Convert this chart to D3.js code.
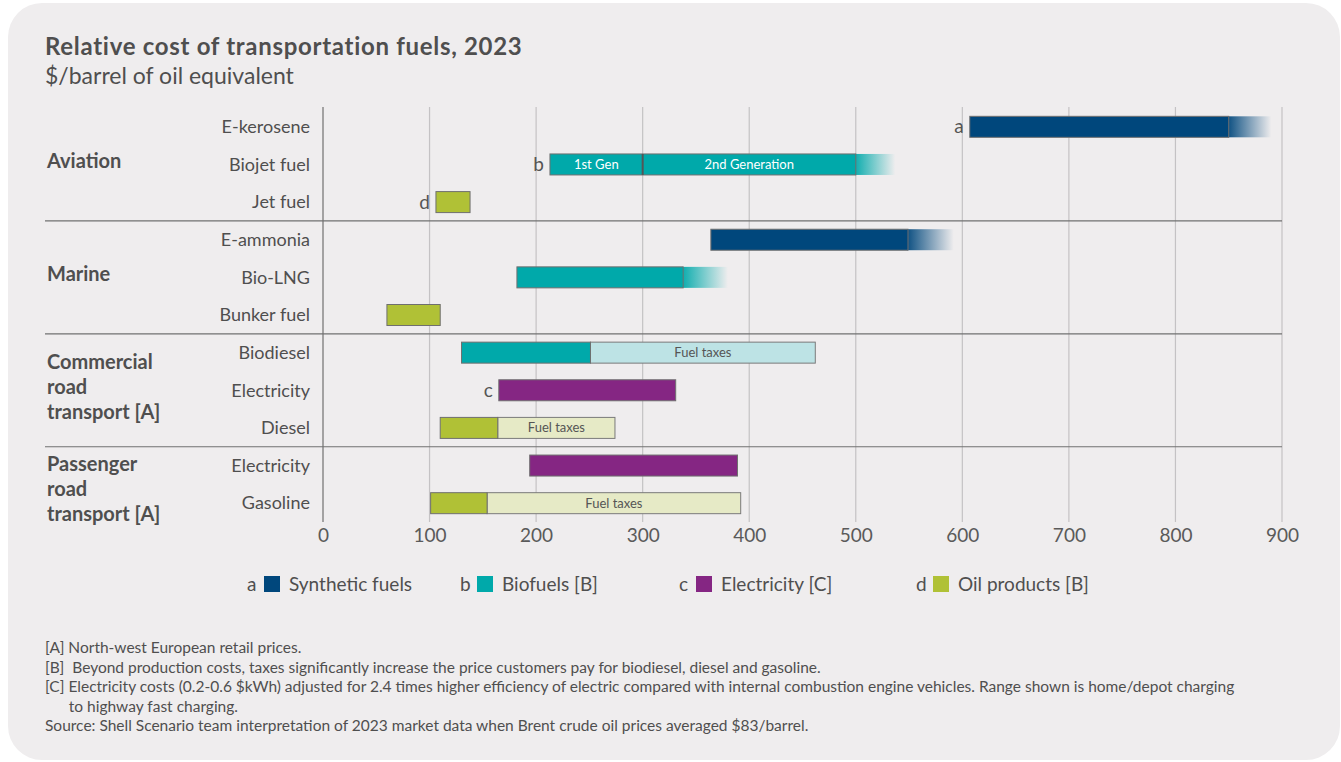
<!DOCTYPE html>
<html>
<head>
<meta charset="utf-8">
<script src="https://cdnjs.cloudflare.com/ajax/libs/d3/7.8.5/d3.min.js"></script>
<style>
  body { margin: 0; background: #ffffff; }
  text { font-family: Lato, "Noto Sans", sans-serif; }
</style>
</head>
<body>
<div id="container"></div>
<script>
//Width and height
var w = 1341;
var h = 762;

//chart data
var rowLabels = ['E-kerosene', 'Biojet fuel', 'Jet fuel', 'E-ammonia', 'Bio-LNG', 'Bunker fuel',
    'Biodiesel', 'Electricity', 'Diesel', 'Electricity', 'Gasoline'];
var fuelType = ['a', 'b', 'd', 'a', 'b', 'd', 'b', 'c', 'd', 'c', 'd'];
var costLow = [607, 213, 106, 364, 182, 60, 130, 165, 110, 194, 101];
var costHigh = [850, 500, 138, 549, 338, 110, 251, 331, 164, 389, 154];
var costFade = [890, 537, null, 592, 380, null, null, null, null, null, null];
var taxHigh = [null, null, null, null, null, null, 462, null, 274, null, 392];
var letterRows = [0, 1, 2, 7];

//biojet split
var biojetSplit = 300;
var biojetLabels = ['1st Gen', '2nd Generation'];

//groups
var groupNames = [['Aviation'], ['Marine'], ['Commercial', 'road', 'transport [A]'], ['Passenger', 'road', 'transport [A]']];
var groupRows = [[0, 2], [3, 5], [6, 8], [9, 10]];

var xTicks = [0, 100, 200, 300, 400, 500, 600, 700, 800, 900];

var legendKeys = ['a', 'b', 'c', 'd'];
var legendLabels = ['Synthetic fuels', 'Biofuels [B]', 'Electricity [C]', 'Oil products [B]'];

var footnotes = [
    '[A] North-west European retail prices.',
    '[B]  Beyond production costs, taxes significantly increase the price customers pay for biodiesel, diesel and gasoline.',
    '[C] Electricity costs (0.2-0.6 $kWh) adjusted for 2.4 times higher efficiency of electric compared with internal combustion engine vehicles. Range shown is home/depot charging',
    '      to highway fast charging.',
    'Source: Shell Scenario team interpretation of 2023 market data when Brent crude oil prices averaged $83/barrel.'
];

//colors
var colors = { a: '#00477c', b: '#00a9aa', c: '#852683', d: '#b0c136' };
var taxColors = { b: '#bde3e5', d: '#e6eac6' };
var bg = '#efedee';
var textColor = '#4f4f4f';

//scales
var x = d3.scaleLinear().domain([0, 900]).range([323, 1282]);
var y = d3.scaleBand().domain(d3.range(rowLabels.length)).range([108, 522]);
var barH = 21;

//create SVG
var svg = d3.select('#container')
    .append('svg')
    .attr('width', w)
    .attr('height', h);

//card background
svg.append('rect')
    .attr('x', 8)
    .attr('y', 3)
    .attr('width', 1332)
    .attr('height', 757)
    .attr('rx', 34)
    .attr('fill', bg);

//gradients for faded ends
var defs = svg.append('defs');
['a', 'b'].forEach(function(k) {
    var g = defs.append('linearGradient')
        .attr('id', 'fade-' + k);
    g.append('stop').attr('offset', '0%').attr('stop-color', colors[k]).attr('stop-opacity', 0.95);
    g.append('stop').attr('offset', '100%').attr('stop-color', colors[k]).attr('stop-opacity', 0);
});

//title
svg.append('text')
    .attr('x', 45)
    .attr('y', 55)
    .text('Relative cost of transportation fuels, 2023')
    .style('font-size', '24px')
    .style('letter-spacing', '0.7px')
    .style('font-weight', 'bold')
    .attr('fill', textColor);

svg.append('text')
    .attr('x', 45)
    .attr('y', 84)
    .text('$/barrel of oil equivalent')
    .style('font-size', '23px')
    .attr('fill', textColor);

//gridlines
svg.selectAll('.grid')
    .data(xTicks.slice(1))
    .enter()
    .append('line')
    .attr('class', 'grid')
    .attr('x1', function(d) { return x(d); })
    .attr('x2', function(d) { return x(d); })
    .attr('y1', 107)
    .attr('y2', 522)
    .attr('stroke', '#c4c2c4')
    .attr('stroke-width', 1.2);

//x axis labels
var xAxis = d3.axisBottom(x)
    .tickValues(xTicks)
    .tickSize(0)
    .tickPadding(0);

var axisG = svg.append('g')
    .attr('transform', 'translate(0,525)')
    .call(xAxis);
axisG.select('.domain').remove();
axisG.selectAll('text')
    .attr('dy', '0.9em')
    .attr('fill', '#5a5a5a')
    .style('font-size', '19px');

//group separators
svg.selectAll('.sep')
    .data(groupRows.slice(1))
    .enter()
    .append('line')
    .attr('x1', 45)
    .attr('x2', 1282)
    .attr('y1', function(d) { return y(d[0]); })
    .attr('y2', function(d) { return y(d[0]); })
    .attr('stroke', '#707070')
    .attr('stroke-width', 1.2);

//zero axis line
svg.append('line')
    .attr('x1', x(0))
    .attr('x2', x(0))
    .attr('y1', 107)
    .attr('y2', 522)
    .attr('stroke', '#707070')
    .attr('stroke-width', 1.2);

//row labels
svg.selectAll('.rowlabel')
    .data(rowLabels)
    .enter()
    .append('text')
    .attr('x', 310)
    .attr('y', function(d, i) { return y(i) + y.bandwidth() / 2; })
    .attr('dy', '0.35em')
    .attr('text-anchor', 'end')
    .text(function(d) { return d; })
    .style('font-size', '18px')
    .attr('fill', textColor);

//group labels
var lineH = 25;
groupNames.forEach(function(lines, gi) {
    var r = groupRows[gi];
    var mid = (y(r[0]) + y(r[1]) + y.bandwidth()) / 2;
    var top = Math.max(mid - (lines.length - 1) * lineH / 2 - 3, y(r[0]) + 17);
    lines.forEach(function(l, li) {
        svg.append('text')
            .attr('x', 47)
            .attr('y', top + li * lineH)
            .attr('dy', '0.35em')
            .text(l)
            .style('font-size', '20px')
            .style('font-weight', 'bold')
            .attr('fill', textColor);
    });
});

var bars = svg.append('g');

//faded ends
bars.selectAll('.fade')
    .data(d3.range(rowLabels.length).filter(function(i) { return costFade[i] != null; }))
    .enter()
    .append('rect')
    .attr('x', function(i) { return x(costHigh[i]) - 1; })
    .attr('y', function(i) { return y(i) + (y.bandwidth() - barH) / 2; })
    .attr('width', function(i) { return x(costFade[i]) - x(costHigh[i]) + 1; })
    .attr('height', barH)
    .attr('fill', function(i) { return 'url(#fade-' + fuelType[i] + ')'; });

//tax segments
bars.selectAll('.tax')
    .data(d3.range(rowLabels.length).filter(function(i) { return taxHigh[i] != null; }))
    .enter()
    .append('rect')
    .attr('x', function(i) { return x(costHigh[i]); })
    .attr('y', function(i) { return y(i) + (y.bandwidth() - barH) / 2; })
    .attr('width', function(i) { return x(taxHigh[i]) - x(costHigh[i]); })
    .attr('height', barH)
    .attr('fill', function(i) { return taxColors[fuelType[i]]; })
    .attr('stroke', '#7a7a7a')
    .attr('stroke-width', 1);

bars.selectAll('.taxlabel')
    .data(d3.range(rowLabels.length).filter(function(i) { return taxHigh[i] != null; }))
    .enter()
    .append('text')
    .attr('x', function(i) { return (x(costHigh[i]) + x(taxHigh[i])) / 2; })
    .attr('y', function(i) { return y(i) + y.bandwidth() / 2; })
    .attr('dy', '0.35em')
    .attr('text-anchor', 'middle')
    .text('Fuel taxes')
    .style('font-size', '13px')
    .attr('fill', '#555');

//main bars
bars.selectAll('.bar')
    .data(d3.range(rowLabels.length))
    .enter()
    .append('rect')
    .attr('x', function(i) { return x(costLow[i]); })
    .attr('y', function(i) { return y(i) + (y.bandwidth() - barH) / 2; })
    .attr('width', function(i) { return x(costHigh[i]) - x(costLow[i]); })
    .attr('height', barH)
    .attr('fill', function(i) { return colors[fuelType[i]]; })
    .attr('stroke', '#6f6f6f')
    .attr('stroke-width', 1);

//biojet generations divider and labels
var bj = 1;
bars.append('line')
    .attr('x1', x(biojetSplit))
    .attr('x2', x(biojetSplit))
    .attr('y1', y(bj) + (y.bandwidth() - barH) / 2)
    .attr('y2', y(bj) + (y.bandwidth() + barH) / 2)
    .attr('stroke', '#555')
    .attr('stroke-width', 2);

bars.selectAll('.genlabel')
    .data(biojetLabels)
    .enter()
    .append('text')
    .attr('x', function(d, k) {
        return k == 0 ? (x(costLow[bj]) + x(biojetSplit)) / 2 : (x(biojetSplit) + x(costHigh[bj])) / 2;
    })
    .attr('y', y(bj) + y.bandwidth() / 2)
    .attr('dy', '0.35em')
    .attr('text-anchor', 'middle')
    .text(function(d) { return d; })
    .style('font-size', '13px')
    .attr('fill', '#ffffff');

//letters next to bars
bars.selectAll('.letter')
    .data(letterRows)
    .enter()
    .append('text')
    .attr('x', function(i) { return x(costLow[i]) - 6; })
    .attr('y', function(i) { return y(i) + y.bandwidth() / 2; })
    .attr('dy', '0.35em')
    .attr('text-anchor', 'end')
    .text(function(i) { return fuelType[i]; })
    .style('font-size', '19px')
    .attr('fill', '#555');

//legend
var legendX = [247, 460, 679, 916];
var legend = svg.selectAll('.legend')
    .data(legendKeys)
    .enter()
    .append('g')
    .attr('transform', function(d, i) { return 'translate(' + legendX[i] + ',584)'; });

legend.append('text')
    .attr('x', 0)
    .attr('dy', '0.35em')
    .text(function(d) { return d; })
    .style('font-size', '19px')
    .attr('fill', textColor);

legend.append('rect')
    .attr('x', 17)
    .attr('y', -8)
    .attr('width', 16)
    .attr('height', 16)
    .attr('fill', function(d) { return colors[d]; });

legend.append('text')
    .attr('x', 42)
    .attr('dy', '0.35em')
    .text(function(d, i) { return legendLabels[i]; })
    .style('font-size', '19px')
    .attr('fill', textColor);

//footnotes
svg.selectAll('.foot')
    .data(footnotes)
    .enter()
    .append('text')
    .attr('x', 45)
    .attr('y', function(d, i) { return 653 + i * 19.5; })
    .attr('xml:space', 'preserve')
    .style('white-space', 'pre')
    .text(function(d) { return d; })
    .style('font-size', '15.5px')
    .attr('fill', textColor);
</script>
</body>
</html>
